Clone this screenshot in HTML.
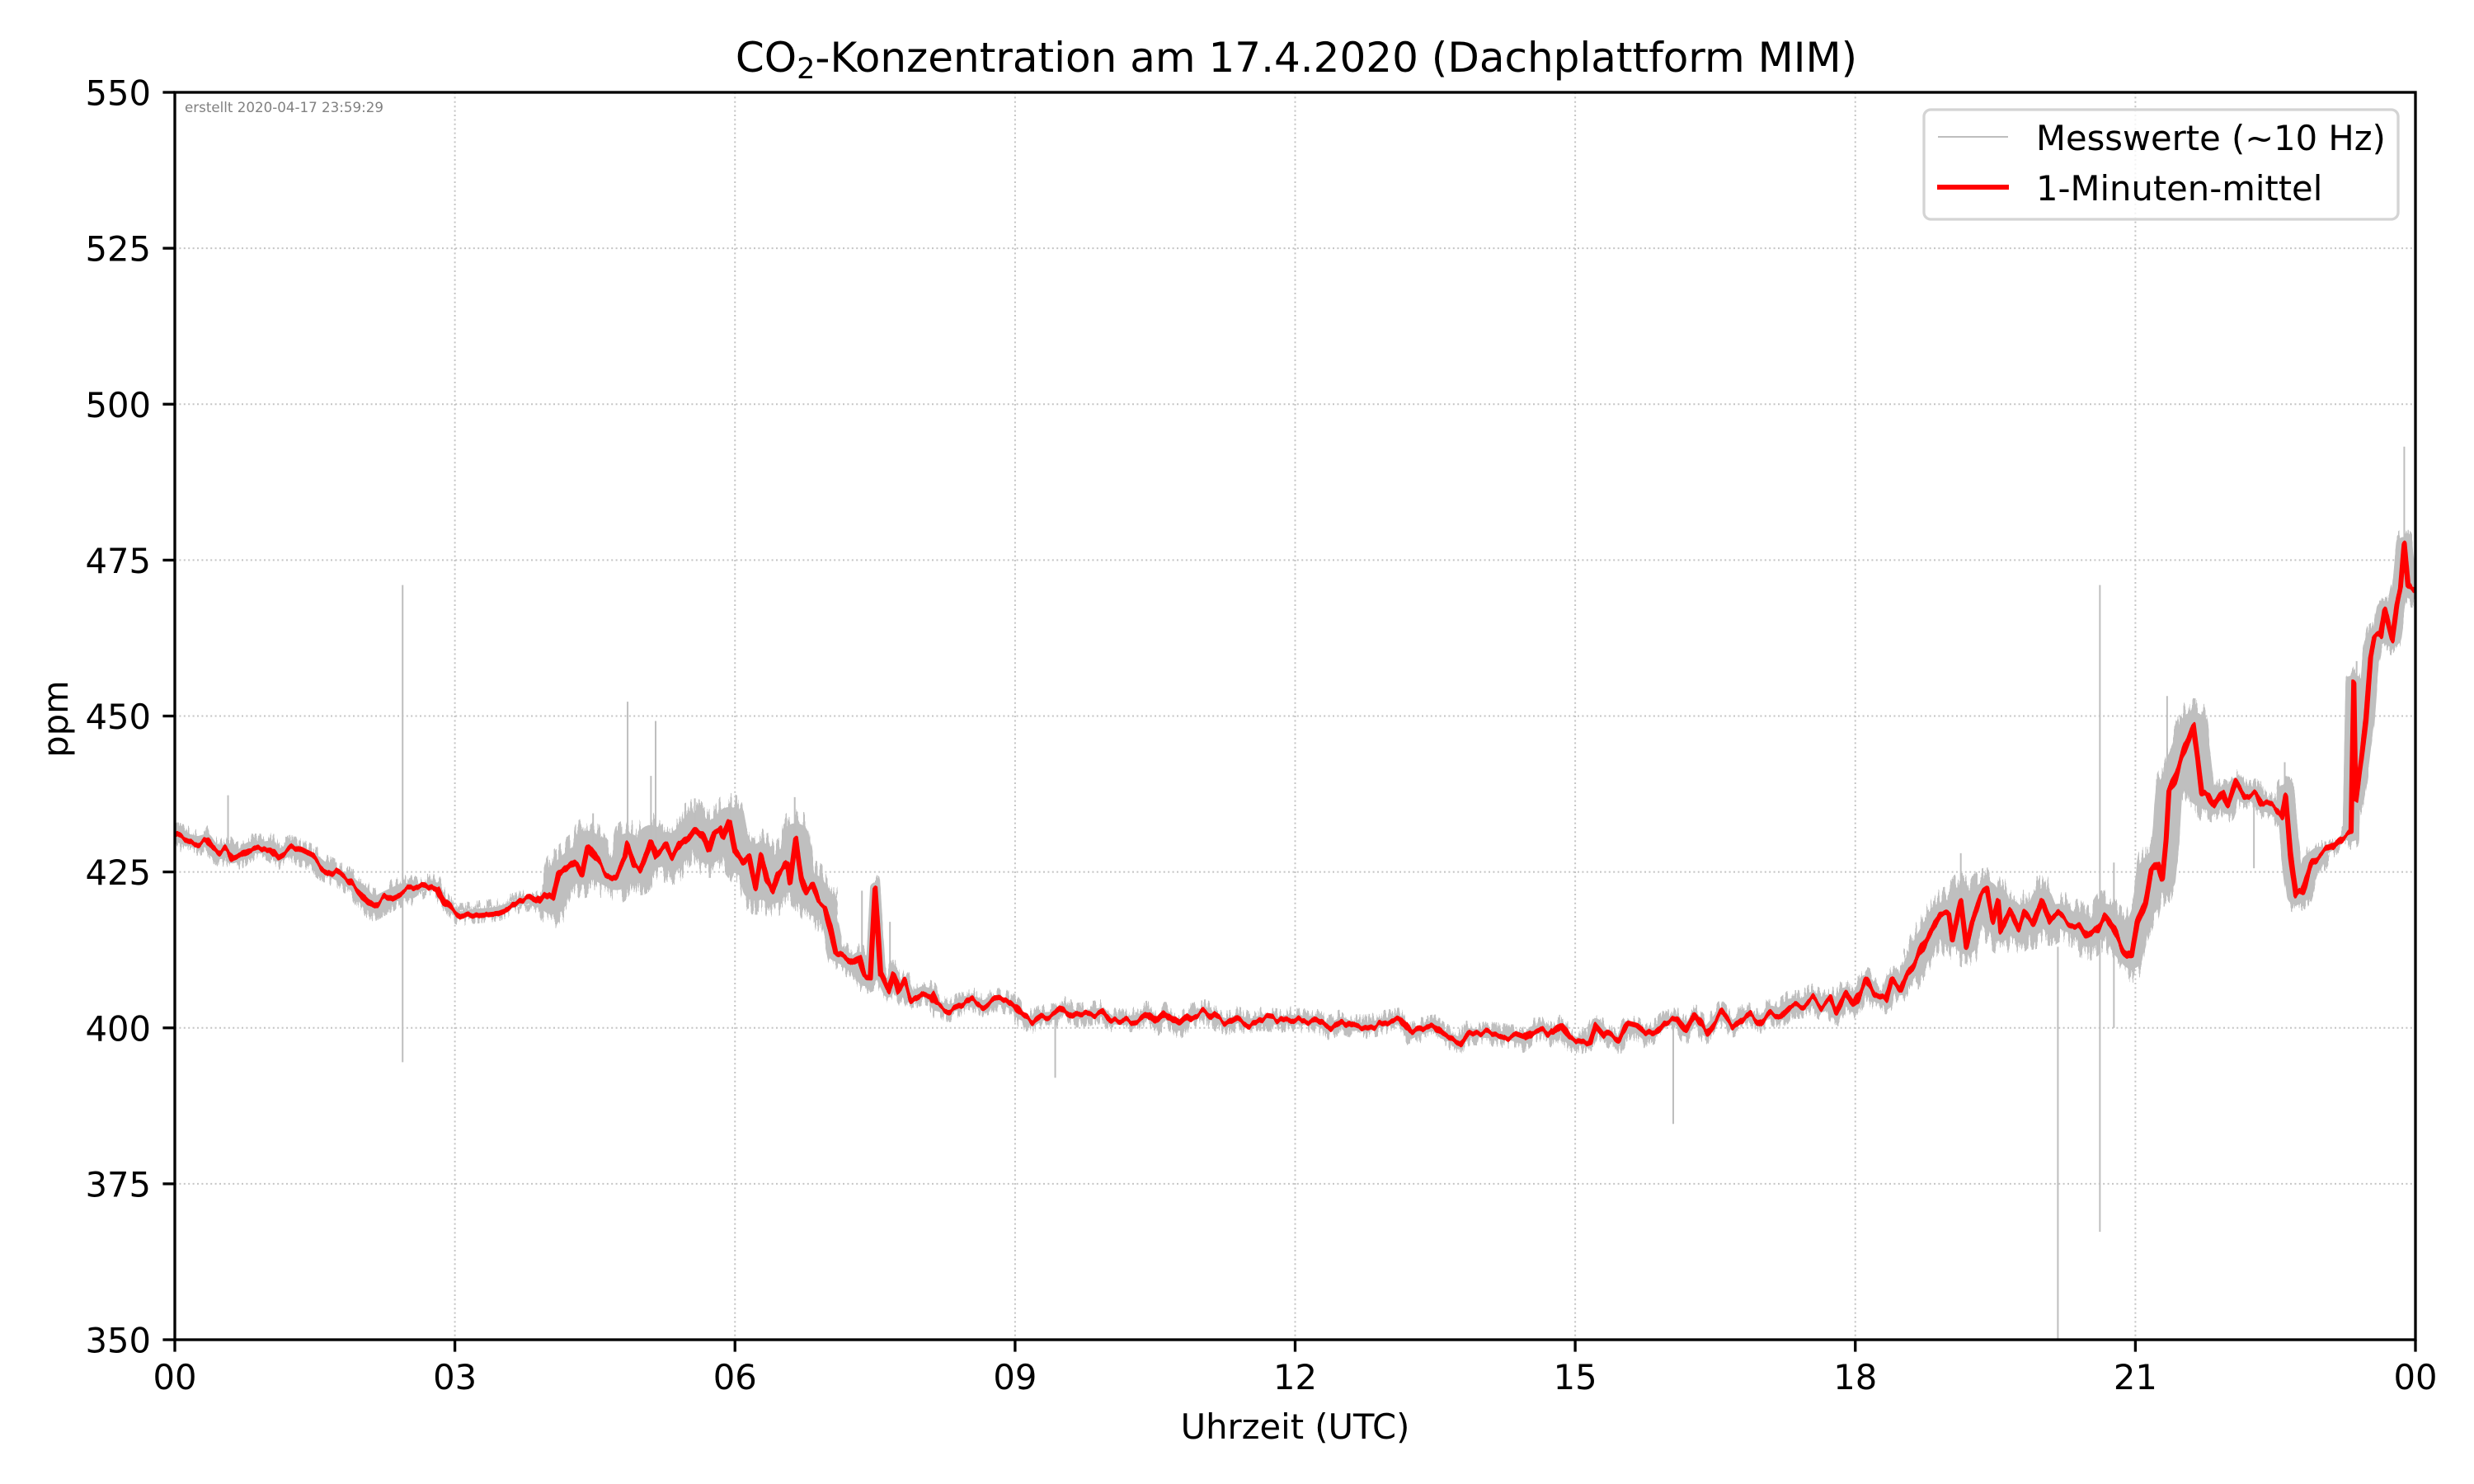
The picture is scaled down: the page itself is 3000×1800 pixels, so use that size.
<!DOCTYPE html>
<html>
<head>
<meta charset="utf-8">
<style>
  html, body { margin: 0; padding: 0; background: #ffffff; }
  svg { display: block; }
  text { font-family: "DejaVu Sans", "Liberation Sans", sans-serif; }
</style>
</head>
<body>
<svg id="fig" width="3000" height="1800" viewBox="0 0 3000 1800" xmlns="http://www.w3.org/2000/svg" xmlns:xlink="http://www.w3.org/1999/xlink">
  <rect x="0" y="0" width="3000" height="1800" fill="#ffffff"/>
  <defs>
    <clipPath id="axclip"><rect x="212" y="112" width="2717" height="1513"/></clipPath>

    <filter id="jq1" x="0" y="0" width="3000" height="1800" filterUnits="userSpaceOnUse" color-interpolation-filters="sRGB">
      <feTurbulence type="fractalNoise" baseFrequency="0.35 0.0005" numOctaves="2" seed="2" result="n"/>
      <feColorMatrix in="n" type="matrix" values="0 0 0 0 0.5  0 2.6 0 0 -0.8  0 0 0 0 0  0 0 0 0 1" result="m"/>
      <feDisplacementMap in="SourceGraphic" in2="m" scale="20" xChannelSelector="R" yChannelSelector="G"/>
    </filter>
    <filter id="jq2" x="0" y="0" width="3000" height="1800" filterUnits="userSpaceOnUse" color-interpolation-filters="sRGB">
      <feTurbulence type="fractalNoise" baseFrequency="0.3 0.0005" numOctaves="2" seed="7" result="n"/>
      <feColorMatrix in="n" type="matrix" values="0 0 0 0 0.5  0 2.6 0 0 -0.8  0 0 0 0 0  0 0 0 0 1" result="m"/>
      <feDisplacementMap in="SourceGraphic" in2="m" scale="20" xChannelSelector="R" yChannelSelector="G"/>
    </filter>
    <filter id="jn1" x="0" y="0" width="3000" height="1800" filterUnits="userSpaceOnUse" color-interpolation-filters="sRGB">
      <feTurbulence type="fractalNoise" baseFrequency="0.3 0.0005" numOctaves="2" seed="4" result="n"/>
      <feColorMatrix in="n" type="matrix" values="0 0 0 0 0.5  0 2.6 0 0 -0.8  0 0 0 0 0  0 0 0 0 1" result="m"/>
      <feDisplacementMap in="SourceGraphic" in2="m" scale="34" xChannelSelector="R" yChannelSelector="G"/>
    </filter>
    <filter id="jn2" x="0" y="0" width="3000" height="1800" filterUnits="userSpaceOnUse" color-interpolation-filters="sRGB">
      <feTurbulence type="fractalNoise" baseFrequency="0.25 0.0005" numOctaves="2" seed="9" result="n"/>
      <feColorMatrix in="n" type="matrix" values="0 0 0 0 0.5  0 2.6 0 0 -0.8  0 0 0 0 0  0 0 0 0 1" result="m"/>
      <feDisplacementMap in="SourceGraphic" in2="m" scale="34" xChannelSelector="R" yChannelSelector="G"/>
    </filter>
    <filter id="wig" x="0" y="0" width="3000" height="1800" filterUnits="userSpaceOnUse" color-interpolation-filters="sRGB">
      <feTurbulence type="fractalNoise" baseFrequency="0.08 0.0005" numOctaves="2" seed="11" result="n"/>
      <feColorMatrix in="n" type="matrix" values="0 0 0 0 0.5  0 2.4 0 0 -0.7  0 0 0 0 0  0 0 0 0 1" result="m"/>
      <feDisplacementMap in="SourceGraphic" in2="m" scale="9" xChannelSelector="R" yChannelSelector="G"/>
    </filter>

    <g id="bq">
      <g transform="matrix(113.2083 0 0 -7.565 212 4272.75)" fill="none" stroke="#bfbfbf" stroke-linejoin="round" stroke-linecap="round">
        <polyline vector-effect="non-scaling-stroke" stroke-width="14" points="0,430.5 0.03,430.7 0.12,430.2 0.25,429.8 0.34,430.2 0.40,428.9 0.49,428.0 0.56,428.7 0.62,427.3 0.71,427.8 0.80,428.9 0.93,428.9 1.02,429.1 1.11,427.6 1.24,428.7 1.33,428.2 1.48,427.1 1.58,425.8 1.70,424.9 1.86,423.6 1.98,422.0"/>
        <polyline vector-effect="non-scaling-stroke" stroke-width="18" points="1.98,422.0 2.07,420.3 2.13,419.6 2.23,420.5 2.35,421.4 2.44,422.0 2.54,422.0"/>
        <polyline vector-effect="non-scaling-stroke" stroke-width="8" points="2.54,422.0 2.66,422.5 2.75,423.1 2.81,422.7 2.88,420.3 2.97,418.9 3.06,418.1 3.18,418.5 3.34,418.7 3.46,418.9 3.59,419.6 3.71,420.3 3.80,420.5 3.87,419.8 3.96,421.2 4.05,420.3"/>
        <polyline vector-effect="non-scaling-stroke" stroke-width="18" points="6.96,419.8 7.02,416.3 7.08,411.9 7.17,411.2 7.27,410.1 7.33,411.0 7.39,407.9 7.45,408.3"/>
        <polyline vector-effect="non-scaling-stroke" stroke-width="12" points="7.45,408.3 7.50,422.5 7.56,408.3 7.64,405.7 7.70,408.8 7.76,405.7 7.82,407.2 7.88,404.8 8.01,405.9 8.10,405.5 8.16,403.5 8.29,403.0"/>
        <polyline vector-effect="non-scaling-stroke" stroke-width="10" points="8.29,403.0 8.41,403.7 8.53,404.6 8.66,403.7 8.78,404.6 8.91,404.1 9.00,403.3 9.06,402.0 9.19,400.9 9.28,401.8 9.43,402.0 9.53,403.1 9.65,402.0 9.77,402.2 9.93,402.6 10.02,401.3 10.15,401.1 10.33,401.5 10.42,402.4 10.52,400.7 10.61,402.2 10.76,400.2 10.89,402.0 11.04,402.6 11.17,401.3 11.29,400.7 11.38,401.5 11.51,400.7 11.66,401.5 11.82,401.1 11.94,401.5 12.07,401.1 12.19,401.3 12.37,400.0 12.50,401.1 12.62,400.2 12.78,400.2 12.96,400.9 13.12,401.3 13.24,398.9 13.37,399.8 13.49,400.2 13.58,398.9 13.77,397.8 13.86,399.3 13.98,399.1 14.17,398.9 14.36,398.5 14.45,398.0 14.54,399.6 14.66,399.8 14.76,398.7 14.85,400.2 14.94,398.0 15.07,397.8 15.16,398.2 15.22,400.9 15.32,399.1 15.47,397.8 15.56,400.2 15.66,399.8 15.75,398.7 15.87,399.6 15.96,400.9 16.09,401.3 16.18,399.3 16.28,401.8 16.40,399.3 16.56,402.4 16.68,400.4 16.84,402.2 16.96,400.9 17.09,402.6"/>
        <polyline vector-effect="non-scaling-stroke" stroke-width="15" points="17.09,402.6 17.20,402.2 17.30,403.7 17.45,403.8 17.54,404.8 17.64,403.5 17.73,404.4 17.79,402.5 17.89,405.5 17.98,403.5 18.11,407.5 18.20,405.3 18.33,404.5 18.39,407.7 18.48,406.2 18.55,408.5 18.63,410.0"/>
        <polyline vector-effect="non-scaling-stroke" stroke-width="16" points="21.77,437.1 21.83,435.3 21.93,437.6 21.99,435.3 22.08,439.1 22.17,437.1 22.29,437.6 22.35,435.9 22.48,435.3 22.57,434.1 22.61,437.6"/>
        <polyline vector-effect="non-scaling-stroke" stroke-width="22" points="22.61,437.6 22.66,428.2 22.72,421.2 22.79,421.8 22.88,426.5 22.97,427.6"/>
        <polyline vector-effect="non-scaling-stroke" stroke-width="6" points="22.97,427.6 23.10,428.8 23.22,430.6 23.31,431.2"/>
        <polyline vector-effect="non-scaling-stroke" stroke-width="20" points="23.31,431.2 23.34,455.3 23.36,436.5 23.42,443.0 23.47,449.4 23.52,459.4 23.56,462.4 23.63,462.9 23.67,467.1 23.75,462.4 23.80,467.9 23.84,470.6 23.88,477.4 23.92,470.6 23.97,470.0 24.0,470.3"/>
      </g>
    </g>
    <g id="bn">
      <g transform="matrix(113.2083 0 0 -7.565 212 4272.75)" fill="none" stroke="#bfbfbf" stroke-linejoin="round" stroke-linecap="round">
        <polyline vector-effect="non-scaling-stroke" stroke-width="32" points="4.05,420.3 4.11,424.2 4.21,425.6 4.30,426.9 4.36,425.1 4.42,429.5 4.51,426.9 4.61,425.1 4.73,424.2 4.82,426.9 4.85,429.1 4.92,426.0 4.98,425.6 5.04,427.8 5.10,430.4 5.16,427.8 5.26,429.3 5.32,427.3 5.41,429.5 5.50,430.9 5.57,432.4 5.66,430.9 5.72,428.4 5.78,431.3 5.84,431.8 5.87,430.4 5.94,433.3 6.00,428.4 6.09,426.5 6.15,427.6 6.22,422.5 6.28,427.6 6.34,423.8 6.40,422.0 6.46,424.9 6.56,426.9 6.59,423.8 6.65,430.7 6.71,424.2 6.77,421.6 6.83,422.5 6.90,419.8 6.96,419.8"/>
        <polyline vector-effect="non-scaling-stroke" stroke-width="26" points="18.63,410.0 18.76,414.1 18.91,418.2 19.00,418.8 19.04,414.7 19.13,420.9 19.19,413.5 19.25,417.1 19.35,421.2 19.41,421.8 19.47,417.1 19.53,420.6 19.56,415.6 19.66,418.8 19.75,415.9 19.81,418.2 19.90,416.5 20.00,420.6 20.09,417.1 20.18,418.2 20.28,417.1 20.40,416.5 20.49,414.7 20.59,415.9 20.68,418.2 20.77,415.9 20.86,412.9 20.96,411.2 21.02,416.5 21.11,420.0"/>
        <polyline vector-effect="non-scaling-stroke" stroke-width="32" points="21.11,420.0 21.17,425.3 21.24,426.5 21.29,423.8 21.33,430.0 21.36,437.6 21.42,439.7 21.49,443.2 21.55,445.6 21.62,448.5 21.67,442.9 21.71,437.6 21.77,437.1"/>
      </g>
    </g>
  </defs>

  <!-- grid -->
  <g stroke="#c4c4c4" stroke-width="2" stroke-dasharray="2 3.4" fill="none">
    <line x1="551.6" y1="112" x2="551.6" y2="1625"/>
    <line x1="891.25" y1="112" x2="891.25" y2="1625"/>
    <line x1="1230.9" y1="112" x2="1230.9" y2="1625"/>
    <line x1="1570.5" y1="112" x2="1570.5" y2="1625"/>
    <line x1="1910.1" y1="112" x2="1910.1" y2="1625"/>
    <line x1="2249.75" y1="112" x2="2249.75" y2="1625"/>
    <line x1="2589.4" y1="112" x2="2589.4" y2="1625"/>
    <line x1="212" y1="1435.9" x2="2929" y2="1435.9"/>
    <line x1="212" y1="1246.75" x2="2929" y2="1246.75"/>
    <line x1="212" y1="1057.6" x2="2929" y2="1057.6"/>
    <line x1="212" y1="868.5" x2="2929" y2="868.5"/>
    <line x1="212" y1="679.4" x2="2929" y2="679.4"/>
    <line x1="212" y1="490.25" x2="2929" y2="490.25"/>
    <line x1="212" y1="301.1" x2="2929" y2="301.1"/>
  </g>

  <g clip-path="url(#axclip)">
    <use href="#bq" xlink:href="#bq"/>
    <use href="#bq" xlink:href="#bq" filter="url(#jq1)"/>
    <use href="#bq" xlink:href="#bq" filter="url(#jq2)"/>
    <use href="#bn" xlink:href="#bn"/>
    <use href="#bn" xlink:href="#bn" filter="url(#jn1)"/>
    <use href="#bn" xlink:href="#bn" filter="url(#jn2)"/>
    <g transform="matrix(113.2083 0 0 -7.565 212 4272.75)">
      <g stroke="#bebebe" stroke-width="2" fill="none">
        <line vector-effect="non-scaling-stroke" x1="0.57" y1="427.5" x2="0.57" y2="437.3"/>
        <line vector-effect="non-scaling-stroke" x1="2.44" y1="394.5" x2="2.44" y2="471"/>
        <line vector-effect="non-scaling-stroke" x1="4.48" y1="426" x2="4.48" y2="434.4"/>
        <line vector-effect="non-scaling-stroke" x1="4.85" y1="426" x2="4.85" y2="452.3"/>
        <line vector-effect="non-scaling-stroke" x1="5.10" y1="427" x2="5.10" y2="440.4"/>
        <line vector-effect="non-scaling-stroke" x1="5.15" y1="427" x2="5.15" y2="449.2"/>
        <line vector-effect="non-scaling-stroke" x1="5.57" y1="430" x2="5.57" y2="436.8"/>
        <line vector-effect="non-scaling-stroke" x1="5.95" y1="430" x2="5.95" y2="436"/>
        <line vector-effect="non-scaling-stroke" x1="6.64" y1="425" x2="6.64" y2="437"/>
        <line vector-effect="non-scaling-stroke" x1="7.36" y1="409" x2="7.36" y2="422"/>
        <line vector-effect="non-scaling-stroke" x1="7.66" y1="405" x2="7.66" y2="417"/>
        <line vector-effect="non-scaling-stroke" x1="9.43" y1="392" x2="9.43" y2="402"/>
        <line vector-effect="non-scaling-stroke" x1="16.05" y1="384.6" x2="16.05" y2="401"/>
        <line vector-effect="non-scaling-stroke" x1="19.13" y1="416" x2="19.13" y2="428"/>
        <line vector-effect="non-scaling-stroke" x1="20.17" y1="345" x2="20.17" y2="413"/>
        <line vector-effect="non-scaling-stroke" x1="20.62" y1="367.3" x2="20.62" y2="471"/>
        <line vector-effect="non-scaling-stroke" x1="20.77" y1="400" x2="20.77" y2="426.5"/>
        <line vector-effect="non-scaling-stroke" x1="21.34" y1="430" x2="21.34" y2="453.2"/>
        <line vector-effect="non-scaling-stroke" x1="22.27" y1="425.6" x2="22.27" y2="437"/>
        <line vector-effect="non-scaling-stroke" x1="22.60" y1="436" x2="22.60" y2="442.6"/>
        <line vector-effect="non-scaling-stroke" x1="23.37" y1="440" x2="23.37" y2="458.8"/>
        <line vector-effect="non-scaling-stroke" x1="23.88" y1="470" x2="23.88" y2="493.2"/>
      </g>
    </g>
    <g filter="url(#wig)">
      <g transform="matrix(113.2083 0 0 -7.565 212 4272.75)">
        <polyline vector-effect="non-scaling-stroke" fill="none" stroke="#ff0000" stroke-width="6.2" stroke-linejoin="round" stroke-linecap="round"
          points="0,430.5 0.03,430.7 0.12,430.2 0.25,429.8 0.34,430.2 0.40,428.9 0.49,428.0 0.56,428.7 0.62,427.3 0.71,427.8 0.80,428.9 0.93,428.9 1.02,429.1 1.11,427.6 1.24,428.7 1.33,428.2 1.48,427.1 1.58,425.8 1.70,424.9 1.86,423.6 1.98,422.0 2.07,420.3 2.13,419.6 2.23,420.5 2.35,421.4 2.44,422.0 2.54,422.0 2.66,422.5 2.75,423.1 2.81,422.7 2.88,420.3 2.97,418.9 3.06,418.1 3.18,418.5 3.34,418.7 3.46,418.9 3.59,419.6 3.71,420.3 3.80,420.5 3.87,419.8 3.96,421.2 4.05,420.3 4.11,424.2 4.21,425.6 4.30,426.9 4.36,425.1 4.42,429.5 4.51,426.9 4.61,425.1 4.73,424.2 4.82,426.9 4.85,429.1 4.92,426.0 4.98,425.6 5.04,427.8 5.10,430.4 5.16,427.8 5.26,429.3 5.32,427.3 5.41,429.5 5.50,430.9 5.57,432.4 5.66,430.9 5.72,428.4 5.78,431.3 5.84,431.8 5.87,430.4 5.94,433.3 6.00,428.4 6.09,426.5 6.15,427.6 6.22,422.5 6.28,427.6 6.34,423.8 6.40,422.0 6.46,424.9 6.56,426.9 6.59,423.8 6.65,430.7 6.71,424.2 6.77,421.6 6.83,422.5 6.90,419.8 6.96,419.8 7.02,416.3 7.08,411.9 7.17,411.2 7.27,410.1 7.33,411.0 7.39,407.9 7.45,408.3 7.50,422.5 7.56,408.3 7.64,405.7 7.70,408.8 7.76,405.7 7.82,407.2 7.88,404.8 8.01,405.9 8.10,405.5 8.16,403.5 8.29,403.0 8.41,403.7 8.53,404.6 8.66,403.7 8.78,404.6 8.91,404.1 9.00,403.3 9.06,402.0 9.19,400.9 9.28,401.8 9.43,402.0 9.53,403.1 9.65,402.0 9.77,402.2 9.93,402.6 10.02,401.3 10.15,401.1 10.33,401.5 10.42,402.4 10.52,400.7 10.61,402.2 10.76,400.2 10.89,402.0 11.04,402.6 11.17,401.3 11.29,400.7 11.38,401.5 11.51,400.7 11.66,401.5 11.82,401.1 11.94,401.5 12.07,401.1 12.19,401.3 12.37,400.0 12.50,401.1 12.62,400.2 12.78,400.2 12.96,400.9 13.12,401.3 13.24,398.9 13.37,399.8 13.49,400.2 13.58,398.9 13.77,397.8 13.86,399.3 13.98,399.1 14.17,398.9 14.36,398.5 14.45,398.0 14.54,399.6 14.66,399.8 14.76,398.7 14.85,400.2 14.94,398.0 15.07,397.8 15.16,398.2 15.22,400.9 15.32,399.1 15.47,397.8 15.56,400.2 15.66,399.8 15.75,398.7 15.87,399.6 15.96,400.9 16.09,401.3 16.18,399.3 16.28,401.8 16.40,399.3 16.56,402.4 16.68,400.4 16.84,402.2 16.96,400.9 17.09,402.6 17.20,402.2 17.30,403.7 17.45,403.8 17.54,404.8 17.64,403.5 17.73,404.4 17.79,402.5 17.89,405.5 17.98,403.5 18.11,407.5 18.20,405.3 18.33,404.5 18.39,407.7 18.48,406.2 18.55,408.5 18.63,410.0 18.76,414.1 18.91,418.2 19.00,418.8 19.04,414.7 19.13,420.9 19.19,413.5 19.25,417.1 19.35,421.2 19.41,421.8 19.47,417.1 19.53,420.6 19.56,415.6 19.66,418.8 19.75,415.9 19.81,418.2 19.90,416.5 20.00,420.6 20.09,417.1 20.18,418.2 20.28,417.1 20.40,416.5 20.49,414.7 20.59,415.9 20.68,418.2 20.77,415.9 20.86,412.9 20.96,411.2 21.02,416.5 21.11,420.0 21.17,425.3 21.24,426.5 21.29,423.8 21.33,430.0 21.36,437.6 21.42,439.7 21.49,443.2 21.55,445.6 21.62,448.5 21.67,442.9 21.71,437.6 21.77,437.1 21.83,435.3 21.93,437.6 21.99,435.3 22.08,439.1 22.17,437.1 22.29,437.6 22.35,435.9 22.48,435.3 22.57,434.1 22.61,437.6 22.66,428.2 22.72,421.2 22.79,421.8 22.88,426.5 22.97,427.6 23.10,428.8 23.22,430.6 23.31,431.2 23.34,455.3 23.36,436.5 23.42,443.0 23.47,449.4 23.52,459.4 23.56,462.4 23.63,462.9 23.67,467.1 23.75,462.4 23.80,467.9 23.84,470.6 23.88,477.4 23.92,470.6 23.97,470.0 24.0,470.3"/>
      </g>
    </g>
  </g>

  <!-- timestamp -->
  <text x="224" y="136" font-size="16.7" fill="#808080">erstellt 2020-04-17 23:59:29</text>

  <!-- spines -->
  <rect x="212" y="112" width="2717" height="1513" fill="none" stroke="#000000" stroke-width="3.33"/>

  <!-- ticks -->
  <g stroke="#000000" stroke-width="3.33">
    <line x1="212" y1="1625" x2="212" y2="1639.6"/>
    <line x1="551.6" y1="1625" x2="551.6" y2="1639.6"/>
    <line x1="891.25" y1="1625" x2="891.25" y2="1639.6"/>
    <line x1="1230.9" y1="1625" x2="1230.9" y2="1639.6"/>
    <line x1="1570.5" y1="1625" x2="1570.5" y2="1639.6"/>
    <line x1="1910.1" y1="1625" x2="1910.1" y2="1639.6"/>
    <line x1="2249.75" y1="1625" x2="2249.75" y2="1639.6"/>
    <line x1="2589.4" y1="1625" x2="2589.4" y2="1639.6"/>
    <line x1="2929" y1="1625" x2="2929" y2="1639.6"/>
    <line x1="197.4" y1="1625" x2="212" y2="1625"/>
    <line x1="197.4" y1="1435.9" x2="212" y2="1435.9"/>
    <line x1="197.4" y1="1246.75" x2="212" y2="1246.75"/>
    <line x1="197.4" y1="1057.6" x2="212" y2="1057.6"/>
    <line x1="197.4" y1="868.5" x2="212" y2="868.5"/>
    <line x1="197.4" y1="679.4" x2="212" y2="679.4"/>
    <line x1="197.4" y1="490.25" x2="212" y2="490.25"/>
    <line x1="197.4" y1="301.1" x2="212" y2="301.1"/>
    <line x1="197.4" y1="112" x2="212" y2="112"/>
  </g>

  <!-- y tick labels -->
  <g font-size="41.67" fill="#000000" text-anchor="end">
    <text x="183" y="1640.5">350</text>
    <text x="183" y="1451.4">375</text>
    <text x="183" y="1262.25">400</text>
    <text x="183" y="1073.1">425</text>
    <text x="183" y="884">450</text>
    <text x="183" y="694.9">475</text>
    <text x="183" y="505.75">500</text>
    <text x="183" y="316.6">525</text>
    <text x="183" y="127.5">550</text>
  </g>

  <!-- x tick labels -->
  <g font-size="41.67" fill="#000000" text-anchor="middle">
    <text x="212" y="1685">00</text>
    <text x="551.6" y="1685">03</text>
    <text x="891.25" y="1685">06</text>
    <text x="1230.9" y="1685">09</text>
    <text x="1570.5" y="1685">12</text>
    <text x="1910.1" y="1685">15</text>
    <text x="2249.75" y="1685">18</text>
    <text x="2589.4" y="1685">21</text>
    <text x="2929" y="1685">00</text>
  </g>

  <!-- axis labels -->
  <text x="1570.5" y="1745" font-size="41.67" text-anchor="middle" fill="#000000">Uhrzeit (UTC)</text>
  <text transform="translate(82,872) rotate(-90)" x="0" y="0" font-size="41.67" text-anchor="middle" fill="#000000">ppm</text>

  <!-- title -->
  <text x="1572" y="87" font-size="50" text-anchor="middle" fill="#000000">CO<tspan font-size="35" dy="8">2</tspan><tspan dy="-8">-Konzentration am 17.4.2020 (Dachplattform MIM)</tspan></text>

  <!-- legend -->
  <rect x="2333" y="133" width="575" height="133" rx="8.3" ry="8.3" fill="#ffffff" fill-opacity="0.8" stroke="#d4d4d4" stroke-width="3.3"/>
  <line x1="2350" y1="166" x2="2435" y2="166" stroke="#bebebe" stroke-width="2"/>
  <line x1="2349" y1="227" x2="2436" y2="227" stroke="#ff0000" stroke-width="6"/>
  <text x="2469" y="182" font-size="41.67" fill="#000000">Messwerte (~10 Hz)</text>
  <text x="2469" y="243" font-size="41.67" fill="#000000">1-Minuten-mittel</text>
</svg>
</body>
</html>
